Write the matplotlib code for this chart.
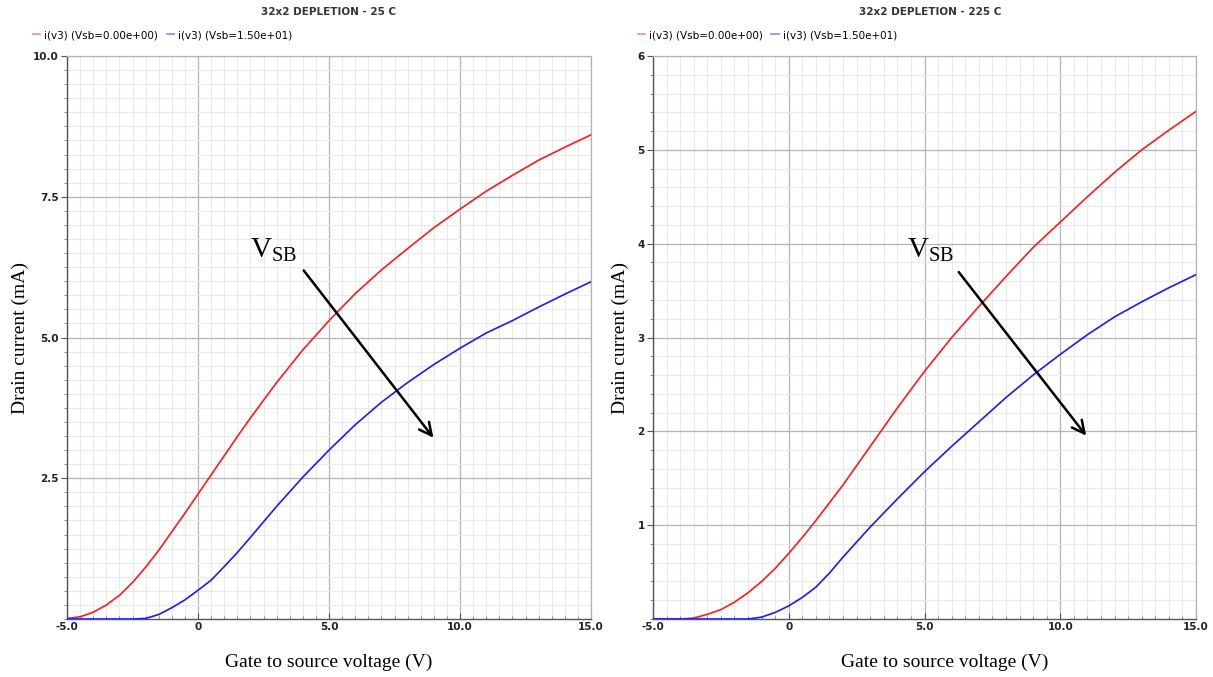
import matplotlib
matplotlib.use("Agg")
import matplotlib.pyplot as plt
from matplotlib.lines import Line2D
from matplotlib.ticker import MultipleLocator, FixedLocator, FixedFormatter

# ---- data ----
vgs = [-5, -4.5, -4, -3.5, -3, -2.5, -2, -1.5, -1, -0.5, 0, 0.5, 1, 1.5,
       2, 3, 4, 5, 6, 7, 8, 9, 10, 11, 12, 13, 14, 15]

id_25_vsb0 = [0.01, 0.04, 0.12, 0.25, 0.42, 0.65, 0.92, 1.22, 1.55, 1.88, 2.22, 2.56, 2.9, 3.24,
              3.57, 4.2, 4.78, 5.3, 5.78, 6.2, 6.58, 6.95, 7.28, 7.6, 7.88, 8.15, 8.38, 8.6]
id_25_vsb15 = [0, 0, 0, 0, 0, 0, 0.01, 0.08, 0.2, 0.34, 0.51, 0.69, 0.93, 1.18,
               1.45, 2.0, 2.52, 3.0, 3.45, 3.85, 4.2, 4.52, 4.81, 5.08, 5.3, 5.54, 5.77, 5.99]
id_225_vsb0 = [0, 0, 0, 0.01, 0.05, 0.1, 0.18, 0.28, 0.40, 0.54, 0.70, 0.87, 1.05, 1.24,
               1.43, 1.84, 2.25, 2.64, 3.0, 3.33, 3.65, 3.96, 4.23, 4.5, 4.76, 5.0, 5.21, 5.41]
id_225_vsb15 = [0, 0, 0, 0, 0, 0, 0, 0, 0.02, 0.07, 0.14, 0.23, 0.34, 0.49,
                0.66, 0.98, 1.28, 1.57, 1.84, 2.1, 2.36, 2.6, 2.82, 3.03, 3.22, 3.38, 3.53, 3.67]

titles = ["32x2 DEPLETION - 25 C", "32x2 DEPLETION - 225 C"]
legend_labels = ["i(v3) (Vsb=0.00e+00)", "i(v3) (Vsb=1.50e+01)"]
x_ticks = [-5, 0, 5, 10, 15]
x_ticklabels = ["-5.0", "0", "5.0", "10.0", "15.0"]
y_ticks_25 = [2.5, 5.0, 7.5, 10.0]
y_ticklabels_25 = ["2.5", "5.0", "7.5", "10.0"]
y_ticks_225 = [1, 2, 3, 4, 5, 6]
y_ticklabels_225 = ["1", "2", "3", "4", "5", "6"]

W, H = 1213, 677
fig = plt.figure(figsize=(W / 100, H / 100), dpi=100)
fig.patch.set_facecolor("white")

def px_axes(x0, x1, y0, y1):
    return fig.add_axes([x0 / W, 1 - y1 / H, (x1 - x0) / W, (y1 - y0) / H])

axL = px_axes(67, 591, 56, 619)
axR = px_axes(653, 1196, 56, 619)

panels = [
    dict(ax=axL, r=id_25_vsb0, b=id_25_vsb15, ymax=10.0, yt=y_ticks_25, ytl=y_ticklabels_25,
         ymin=0.25, a0=(3.97, 6.23), a1=(9.05, 3.18), tpos=(1.98, 6.41), title=titles[0],
         leg_x=-0.065, ylab_x=-0.0897, xlab_x=0.5, title_x=0.5),
    dict(ax=axR, r=id_225_vsb0, b=id_225_vsb15, ymax=6.0, yt=y_ticks_225, ytl=y_ticklabels_225,
         ymin=0.2, a0=(6.2, 3.72), a1=(11.02, 1.93), tpos=(4.36, 3.85), title=titles[1],
         leg_x=-0.028, ylab_x=-0.0608, xlab_x=0.538, title_x=0.51),
]

for p in panels:
    ax = p["ax"]
    ax.plot(vgs, p["r"], color="#ff1a1a", lw=1.2, zorder=3)
    ax.plot(vgs, p["b"], color="#1a1aff", lw=1.2, zorder=3)
    ax.set_xlim(-5, 15)
    ax.set_ylim(0, p["ymax"])
    ax.xaxis.set_major_locator(FixedLocator(x_ticks))
    ax.xaxis.set_major_formatter(FixedFormatter(x_ticklabels))
    ax.xaxis.set_minor_locator(MultipleLocator(0.5))
    ax.yaxis.set_major_locator(FixedLocator(p["yt"]))
    ax.yaxis.set_major_formatter(FixedFormatter(p["ytl"]))
    ax.yaxis.set_minor_locator(MultipleLocator(p["ymin"]))
    ax.grid(which="major", color="#b4b4b4", lw=0.9, zorder=1)
    ax.grid(which="minor", color="#e9e9e9", lw=0.8, zorder=0)
    ax.set_axisbelow(True)
    for s in ["top", "right"]:
        ax.spines[s].set_color("#b4b4b4")
        ax.spines[s].set_linewidth(0.9)
    for s in ["left", "bottom"]:
        ax.spines[s].set_color("#555555")
        ax.spines[s].set_linewidth(1.0)
    ax.tick_params(axis="both", which="major", labelsize=7.5, length=4,
                   color="#555555", pad=2)
    ax.tick_params(axis="both", which="minor", length=2.5, color="#777777")
    ax.tick_params(axis="x", which="both", direction="in")
    for lab in ax.get_xticklabels() + ax.get_yticklabels():
        lab.set_fontweight("bold")
        lab.set_color("#222222")
    ax.text(p["title_x"], 1 + 44 / 563, p["title"], transform=ax.transAxes,
            fontsize=7.5, fontweight="bold", color="#333333", ha="center", va="center")
    ax.set_xlabel("Gate to source voltage (V)", family="Liberation Serif", fontsize=14)
    ax.xaxis.set_label_coords(p["xlab_x"], -43 / 563)
    ax.set_ylabel("Drain current (mA)", family="Liberation Serif", fontsize=14)
    ax.yaxis.set_label_coords(p["ylab_x"], 0.5)
    ax.xaxis.label.set_va("center")
    ax.yaxis.label.set_va("center")
    handles = [Line2D([0], [0], color="#ff8a8a", lw=1.2),
               Line2D([0], [0], color="#8a8aff", lw=1.2)]
    ax.legend(handles, legend_labels, loc="center left",
              bbox_to_anchor=(p["leg_x"], 1 + 21 / 563),
              ncol=2, frameon=False, fontsize=7.5, handlelength=0.7,
              handletextpad=0.4, columnspacing=0.8, borderaxespad=0,
              borderpad=0)
    ax.annotate("", xy=p["a1"], xytext=p["a0"],
                arrowprops=dict(arrowstyle="->,head_length=0.9,head_width=0.45",
                                color="black", lw=1.8), zorder=5)
    ax.text(p["tpos"][0], p["tpos"][1], r"$\mathregular{V_{SB}}$", family="Liberation Serif",
            fontsize=21, ha="left", va="baseline", zorder=5)

fig.savefig("out.png", dpi=100, facecolor="white")
